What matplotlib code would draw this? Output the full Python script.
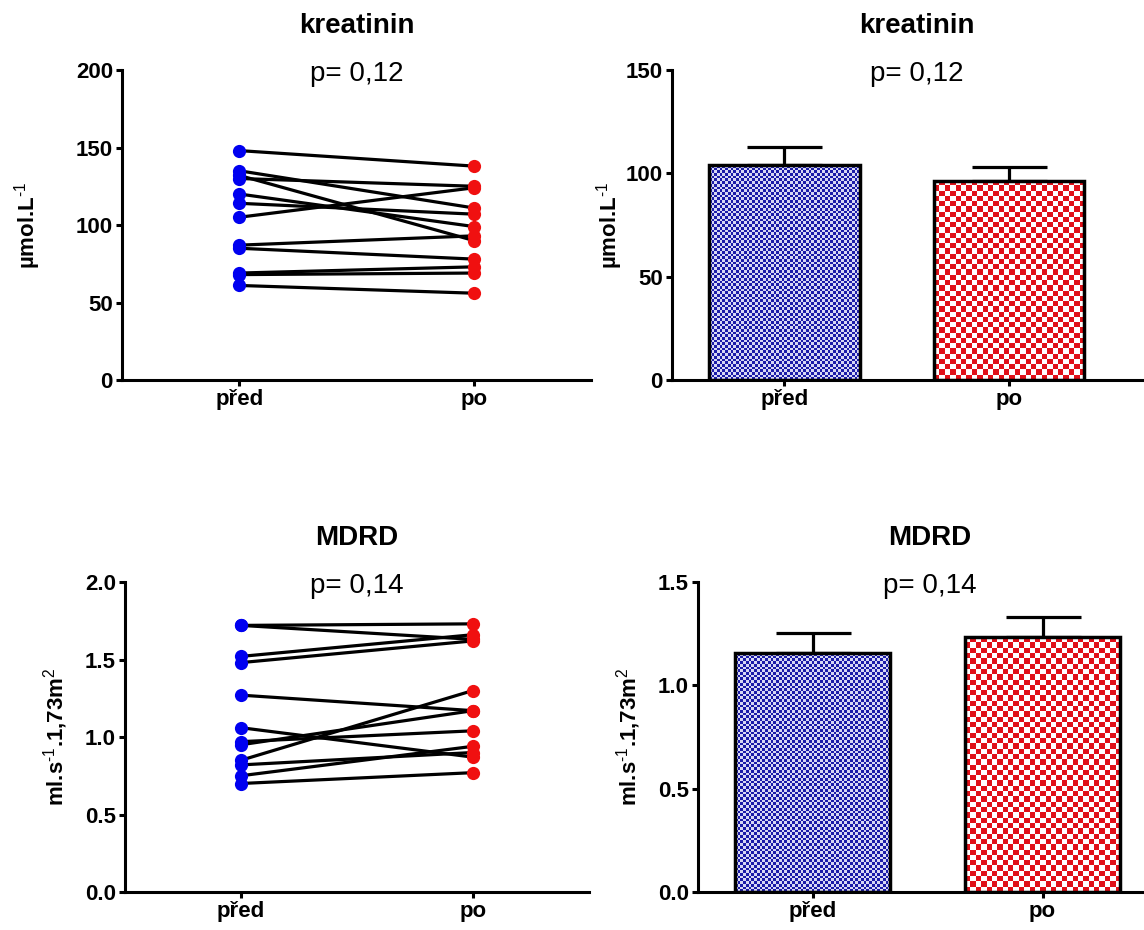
import numpy as np
import matplotlib.pyplot as plt
from matplotlib.colors import to_rgb

plt.rcParams['font.family'] = ['Liberation Sans', 'DejaVu Sans']
plt.rcParams['mathtext.fontset'] = 'custom'
plt.rcParams['mathtext.rm'] = 'Liberation Sans'
plt.rcParams['mathtext.it'] = 'Liberation Sans:italic'
plt.rcParams['mathtext.bf'] = 'Liberation Sans:bold'

groups = ['před', 'po']

# kreatinin (umol/L), paired values before/after
kreat_pred = [148, 135, 132, 130, 120, 114, 105, 87, 85, 69, 68, 61]
kreat_po = [138, 111, 90, 125, 99, 107, 124, 93, 78, 73, 69, 56]
kreat_mean = [104.0, 96.3]
kreat_sem = [8.6, 6.9]
kreat_p = 'p= 0,12'

# MDRD (ml/s/1,73m2)
mdrd_pred = [1.72, 1.72, 1.52, 1.48, 1.27, 1.06, 0.97, 0.95, 0.85, 0.82, 0.75, 0.70]
mdrd_po = [1.73, 1.63, 1.66, 1.62, 1.17, 0.87, 1.04, 1.17, 1.30, 0.90, 0.94, 0.77]
mdrd_mean = [1.155, 1.232]
mdrd_sem = [0.10, 0.10]
mdrd_p = 'p= 0,14'

lab_kreat = r'µmol.L$^{\mathrm{\text{-}1}}$'
lab_mdrd = r'ml.s$^{\mathrm{\text{-}1}}$.1,73m$^{2}$'

W, H = 1144, 930
fig = plt.figure(figsize=(W / 100, H / 100), dpi=100)


def add_axes(left, right, top, bottom):
    return fig.add_axes([left / W, 1 - bottom / H, (right - left) / W, (bottom - top) / H])


def style(ax, ylim, yticks, ylabel, labx, title, ptext, fmt):
    for s in ['top', 'right']:
        ax.spines[s].set_visible(False)
    for s in ['left', 'bottom']:
        ax.spines[s].set_linewidth(2.2)
    ax.set_ylim(*ylim)
    ax.set_yticks(yticks)
    ax.set_yticklabels([fmt.format(t) for t in yticks])
    ax.set_xticks([0, 1])
    ax.set_xticklabels(groups)
    ax.tick_params(direction='out', length=4.5, width=2.2, labelsize=16, pad=2)
    for t in ax.get_xticklabels() + ax.get_yticklabels():
        t.set_fontweight('bold')
    ax.set_ylabel(ylabel, fontsize=16, fontweight='bold')
    ax.yaxis.set_label_coords(labx, 0.5)
    ax.text(0.5, 1.119, title, transform=ax.transAxes, ha='center', va='baseline',
            fontsize=20, fontweight='bold')
    ax.text(0.5, 0.963, ptext, transform=ax.transAxes, ha='center', va='baseline',
            fontsize=20)


def paired(ax, a, b):
    for y0, y1 in zip(a, b):
        ax.plot([0, 1], [y0, y1], color='black', lw=2.3, zorder=2)
    ax.plot([0] * len(a), a, 'o', color='#0000f0', ms=9.5, mec='none', zorder=3, clip_on=False)
    ax.plot([1] * len(b), b, 'o', color='#f01010', ms=9.5, mec='none', zorder=3, clip_on=False)


def checker(ax, patch, cell, c1, c2):
    x0, y0 = patch.get_x(), patch.get_y()
    x1, y1 = x0 + patch.get_width(), y0 + patch.get_height()
    (px0, py0), (px1, py1) = ax.transData.transform([(x0, y0), (x1, y1)])
    nx = max(1, int(round(abs(px1 - px0) / cell)))
    ny = max(1, int(round(abs(py1 - py0) / cell)))
    ii, jj = np.indices((ny, nx))
    mask = ((ii + jj) % 2 == 0)
    img = np.where(mask[..., None], np.array(to_rgb(c1)), np.array(to_rgb(c2)))
    im = ax.imshow(img, extent=(x0, x1, y0, y1), origin='lower', aspect='auto',
                   interpolation='nearest', zorder=1)
    im.set_clip_path(patch)


def bars(ax, mean, sem, width):
    ax.errorbar([0, 1], mean, yerr=[[0, 0], sem], fmt='none', ecolor='black',
                elinewidth=2.3, capsize=27, capthick=2.3, zorder=0)
    bs = ax.bar([0, 1], mean, width=width, facecolor='none', edgecolor='black',
                linewidth=2.5, zorder=2)
    return bs


# kreatinin - paired
ax1 = add_axes(122, 591, 70, 380)
ax1.set_xlim(-0.5, 1.5)
paired(ax1, kreat_pred, kreat_po)
style(ax1, (0, 200), [0, 50, 100, 150, 200], lab_kreat, -0.168, 'kreatinin', kreat_p, '{:.0f}')

# kreatinin - bars
ax2 = add_axes(672, 1162, 70, 380)
ax2.set_xlim(-0.5, 1.678)
ax2.set_ylim(0, 150)
b2 = bars(ax2, kreat_mean, kreat_sem, 0.667)
checker(ax2, b2[0], 2.7, '#1c1ca8', '#d8d8f4')
checker(ax2, b2[1], 5.3, '#e01018', '#ffffff')
ax2.set_xlim(-0.5, 1.678)
style(ax2, (0, 150), [0, 50, 100, 150], lab_kreat, -0.096, 'kreatinin', kreat_p, '{:.0f}')

# MDRD - paired
ax3 = add_axes(125, 589, 582, 892)
ax3.set_xlim(-0.5, 1.5)
paired(ax3, mdrd_pred, mdrd_po)
style(ax3, (0, 2.0), [0, 0.5, 1.0, 1.5, 2.0], lab_mdrd, -0.118, 'MDRD', mdrd_p, '{:.1f}')

# MDRD - bars
ax4 = add_axes(698, 1162, 582, 892)
ax4.set_xlim(-0.5, 1.52)
ax4.set_ylim(0, 1.5)
b4 = bars(ax4, mdrd_mean, mdrd_sem, 0.675)
checker(ax4, b4[0], 2.7, '#1c1ca8', '#d8d8f4')
checker(ax4, b4[1], 5.3, '#e01018', '#ffffff')
ax4.set_xlim(-0.5, 1.52)
style(ax4, (0, 1.5), [0, 0.5, 1.0, 1.5], lab_mdrd, -0.118, 'MDRD', mdrd_p, '{:.1f}')

fig.savefig('out.png', dpi=100, facecolor='white')
